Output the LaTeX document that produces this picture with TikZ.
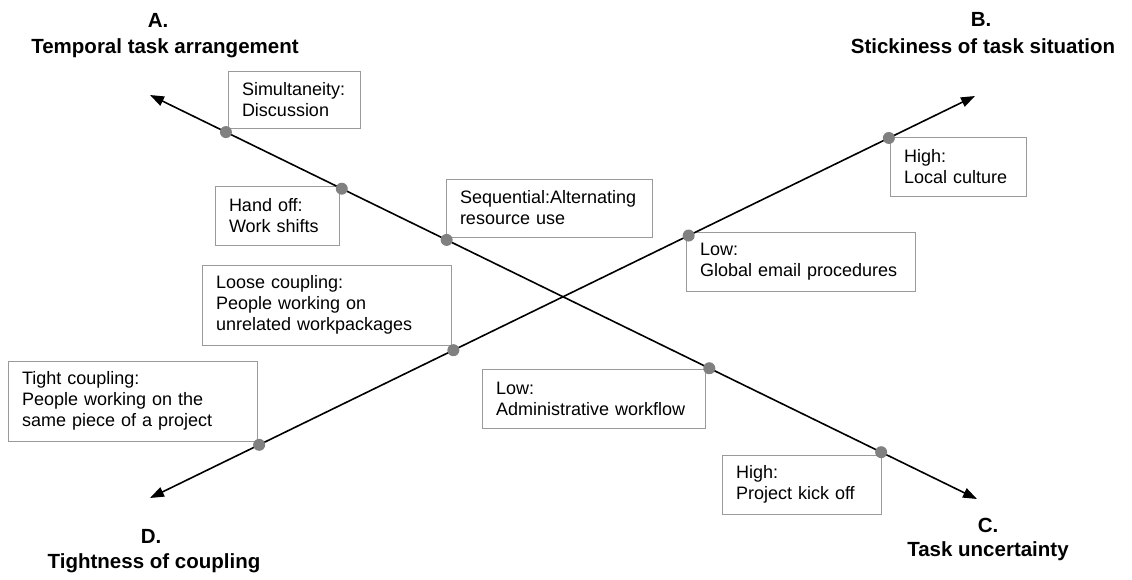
\documentclass[tikz,border=0pt]{standalone}
\usepackage{fontspec}
\setmainfont{Liberation Sans}
\usetikzlibrary{arrows.meta,calc}
\definecolor{boxgray}{HTML}{9A9A9A}
\definecolor{dotgray}{HTML}{808080}
\begin{document}
\begin{tikzpicture}[x=1pt,y=-1pt,
  axis/.style={line width=1.6pt, {Triangle[length=14pt,width=10pt]}-{Triangle[length=14pt,width=10pt]}},
  dot/.style={circle, fill=dotgray, inner sep=0pt, minimum size=12pt},
  tbox/.style={draw=boxgray, line width=1pt, fill=white, inner xsep=14pt, inner ysep=0pt, align=left, font=\fontsize{18}{21}\selectfont},
  ttl/.style={font=\bfseries\fontsize{20.5}{25}\selectfont, inner sep=0pt, anchor=base}
]
\useasboundingbox (0,0) rectangle (1132,579);

% titles
\node[ttl] (Ahead) at (158,27) {A.};
\node[ttl] (Atitle) at (165,53) {Temporal task arrangement};
\node[ttl] (Bhead) at (981,26) {B.};
\node[ttl] (Btitle) at (983,53) {Stickiness of task situation};
\node[ttl] (Chead) at (988,532) {C.};
\node[ttl] (Ctitle) at (988,556) {Task uncertainty};
\node[ttl] (Dhead) at (151,543) {D.};
\node[ttl] (Dtitle) at (154,568) {Tightness of coupling};

% boxes
\node[tbox, minimum width=132pt, text width=104pt, minimum height=57pt] (sim) at (294,99.5) {Simultaneity:\\Discussion};
\node[tbox, minimum width=124pt, text width=96pt, minimum height=59pt] (hand) at (277,215.5) {Hand off:\\Work shifts};
\node[tbox, minimum width=206pt, text width=178pt, minimum height=58pt] (seq) at (549,208) {Sequential:Alternating\\resource use};
\node[tbox, minimum width=249pt, text width=221pt, minimum height=80pt] (loose) at (326.5,305) {Loose coupling:\\People working on\\unrelated workpackages};
\node[tbox, minimum width=249pt, text width=221pt, minimum height=80pt] (tight) at (132.5,401) {Tight coupling:\\People working on the\\same piece of a project};
\node[tbox, minimum width=136pt, text width=108pt, minimum height=59pt] (hlocal) at (958,166.5) {High:\\Local culture};
\node[tbox, minimum width=229pt, text width=201pt, minimum height=59pt] (lglobal) at (800.5,261.5) {Low:\\Global email procedures};
\node[tbox, minimum width=223pt, text width=195pt, minimum height=59pt] (ladmin) at (593.5,398.5) {Low:\\Administrative workflow};
\node[tbox, minimum width=159pt, text width=131pt, minimum height=59pt] (hproj) at (801.5,484.5) {High:\\Project kick off};

% axes
\coordinate (pA) at (150,95);
\coordinate (pC) at (977,499);
\coordinate (pD) at (150,498);
\coordinate (pB) at (975,96);
\draw[axis] (pA) -- (pC);
\draw[axis] (pD) -- (pB);

% dots on A--C
\node[dot] (a1) at ($(pA)!0.0918!(pC)$) {};
\node[dot] (a2) at ($(pA)!0.2319!(pC)$) {};
\node[dot] (a3) at ($(pA)!0.3587!(pC)$) {};
\node[dot] (c1) at ($(pA)!0.6763!(pC)$) {};
\node[dot] (c2) at ($(pA)!0.8841!(pC)$) {};
% dots on D--B
\node[dot] (d1) at ($(pD)!0.1323!(pB)$) {};
\node[dot] (d2) at ($(pD)!0.3677!(pB)$) {};
\node[dot] (b1) at ($(pD)!0.6529!(pB)$) {};
\node[dot] (b2) at ($(pD)!0.8956!(pB)$) {};
\end{tikzpicture}
\end{document}
